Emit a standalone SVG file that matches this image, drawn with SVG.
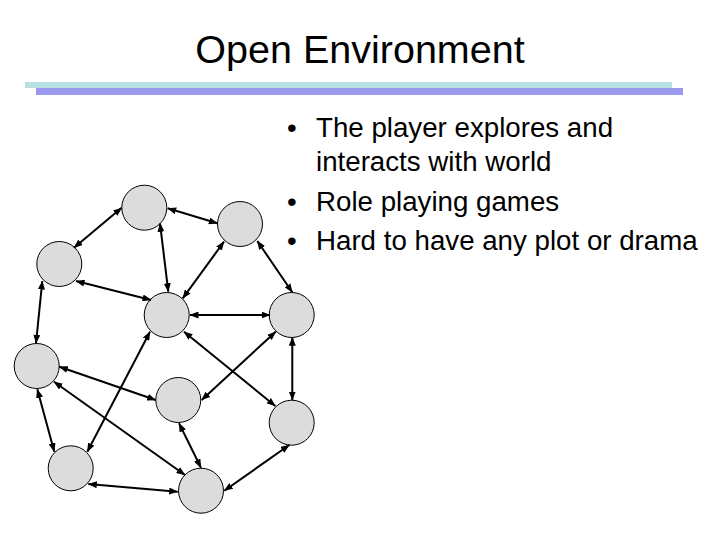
<svg xmlns="http://www.w3.org/2000/svg" width="720" height="540" viewBox="0 0 720 540">
<defs>
<style>
.title{font-family:"Liberation Sans",Arial,sans-serif;font-size:39.5px;fill:#000;}
.txt{font-family:"Liberation Sans",Arial,sans-serif;font-size:27.7px;fill:#000;}
.node{fill:#dcdcdc;stroke:#000;stroke-width:1;}
.edge{stroke:#000;stroke-width:2;fill:none;marker-start:url(#ah);marker-end:url(#ah);}
</style>
<marker id="ah" viewBox="0 0 9 7" refX="8.5" refY="3.5" markerWidth="9" markerHeight="7" markerUnits="userSpaceOnUse" orient="auto-start-reverse">
<path d="M0,0 L9,3.5 L0,7 z" fill="#000"/>
</marker>
</defs>
<rect width="720" height="540" fill="#fff"/>
<text class="title" x="360" y="63" text-anchor="middle">Open Environment</text>
<rect x="25" y="82" width="647" height="6" fill="#b8e0e0"/>
<rect x="36" y="88" width="647" height="7" fill="#9999ee"/>
<g id="bullets">
<text class="txt" x="287" y="137">•</text>
<text class="txt" x="316" y="137">The player explores and</text>
<text class="txt" x="316" y="171">interacts with world</text>
<text class="txt" x="287" y="211">•</text>
<text class="txt" x="316" y="211">Role playing games</text>
<text class="txt" x="287" y="250">•</text>
<text class="txt" x="316" y="250">Hard to have any plot or drama</text>
</g>
<g id="nodes">
<g id="nA"><circle class="node" cx="144.3" cy="207.7" r="22.5"/></g>
<g id="nB"><circle class="node" cx="240" cy="224" r="22.5"/></g>
<g id="nC"><circle class="node" cx="59.3" cy="264" r="22.5"/></g>
<g id="nD"><circle class="node" cx="166.7" cy="315" r="22.5"/></g>
<g id="nE"><circle class="node" cx="291.7" cy="315" r="22.5"/></g>
<g id="nF"><circle class="node" cx="36.7" cy="366" r="22.5"/></g>
<g id="nG"><circle class="node" cx="178.3" cy="400" r="22.5"/></g>
<g id="nH"><circle class="node" cx="291.7" cy="422.7" r="22.5"/></g>
<g id="nI"><circle class="node" cx="70.7" cy="468.3" r="22.5"/></g>
<g id="nJ"><circle class="node" cx="201" cy="490.7" r="22.5"/></g>
</g>
<g id="connectors">
<line class="edge" x1="121.7" y1="207.7" x2="74" y2="247.7"/>
<line class="edge" x1="167.7" y1="208.3" x2="217.3" y2="223.3"/>
<line class="edge" x1="160" y1="223.3" x2="168.3" y2="291.7"/>
<line class="edge" x1="224" y1="241.7" x2="182.7" y2="298.3"/>
<line class="edge" x1="257.3" y1="241" x2="292.3" y2="292.3"/>
<line class="edge" x1="76" y1="281" x2="151" y2="300"/>
<line class="edge" x1="42.3" y1="281" x2="36" y2="343.3"/>
<line class="edge" x1="190" y1="315" x2="270" y2="315"/>
<line class="edge" x1="150" y1="331.7" x2="87.3" y2="451.7"/>
<line class="edge" x1="184" y1="331.7" x2="275.3" y2="406"/>
<line class="edge" x1="275.7" y1="331.7" x2="201.7" y2="400"/>
<line class="edge" x1="292.3" y1="337.3" x2="292.3" y2="400"/>
<line class="edge" x1="59.3" y1="366.7" x2="155.7" y2="400"/>
<line class="edge" x1="54" y1="381.7" x2="185" y2="475"/>
<line class="edge" x1="37.3" y1="389.3" x2="54.3" y2="451.7"/>
<line class="edge" x1="179" y1="423.3" x2="201" y2="467.7"/>
<line class="edge" x1="88.3" y1="484" x2="177.7" y2="491.7"/>
<line class="edge" x1="289.3" y1="445" x2="224.3" y2="490.7"/>
</g>
</svg>
